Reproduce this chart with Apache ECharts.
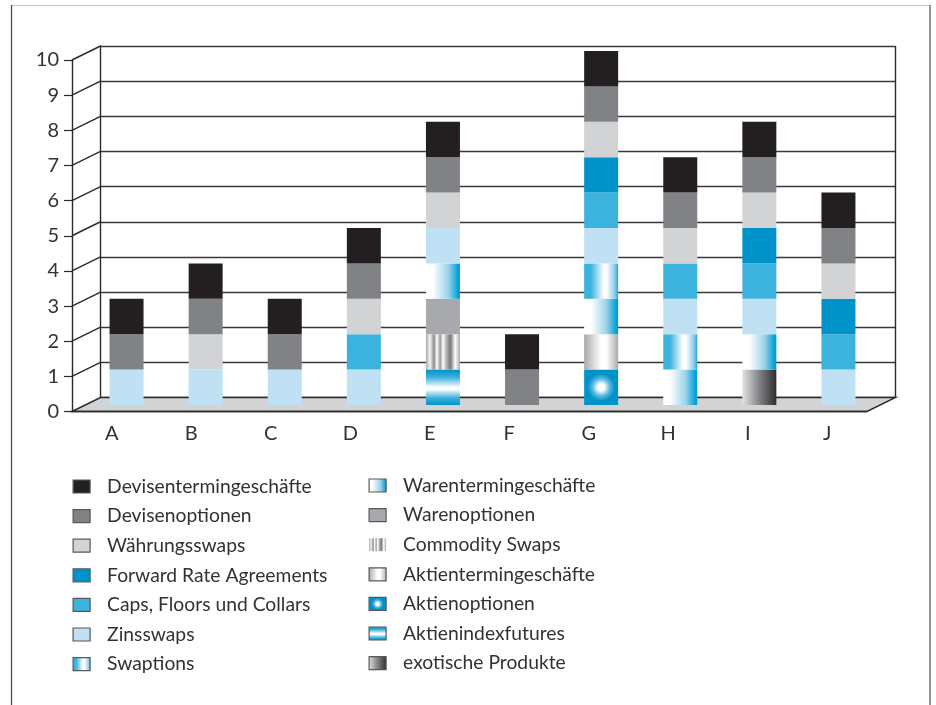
<!DOCTYPE html>
<html>
<head>
<meta charset="utf-8">
<style>html,body{margin:0;padding:0;background:#fff}#chart{width:936px;height:705px}</style>
<script src="https://cdn.jsdelivr.net/npm/echarts@6/dist/echarts.min.js"></script>
</head>
<body>
<div id="chart"></div>
<script>
// Categories and tick values
const categories = ['A', 'B', 'C', 'D', 'E', 'F', 'G', 'H', 'I', 'J'];
const yTicks = [0, 1, 2, 3, 4, 5, 6, 7, 8, 9, 10];

// Product counts per category, stacked bottom to top
const exotischeProdukte    = [0, 0, 0, 0, 0, 0, 0, 0, 1, 0];
const aktienindexfutures   = [0, 0, 0, 0, 1, 0, 0, 0, 0, 0];
const aktienoptionen       = [0, 0, 0, 0, 0, 0, 1, 0, 0, 0];
const aktientermin         = [0, 0, 0, 0, 0, 0, 1, 0, 0, 0];
const commoditySwaps       = [0, 0, 0, 0, 1, 0, 0, 0, 0, 0];
const warenoptionen        = [0, 0, 0, 0, 1, 0, 0, 0, 0, 0];
const warentermin          = [0, 0, 0, 0, 1, 0, 1, 1, 1, 0];
const swaptions            = [0, 0, 0, 0, 0, 0, 1, 1, 0, 0];
const zinsswaps            = [1, 1, 1, 1, 1, 0, 1, 1, 1, 1];
const capsFloorsCollars    = [0, 0, 0, 1, 0, 0, 1, 1, 1, 1];
const forwardRateAgreements= [0, 0, 0, 0, 0, 0, 1, 0, 1, 1];
const waehrungsswaps       = [0, 1, 0, 1, 1, 0, 1, 1, 1, 1];
const devisenoptionen      = [1, 1, 1, 1, 1, 1, 1, 1, 1, 1];
const devisentermin        = [1, 1, 1, 1, 1, 1, 1, 1, 1, 1];

const legendLeft = ['Devisentermingeschäfte', 'Devisenoptionen', 'Währungsswaps', 'Forward Rate Agreements',
  'Caps, Floors und Collars', 'Zinsswaps', 'Swaptions'];
const legendRight = ['Warentermingeschäfte', 'Warenoptionen', 'Commodity Swaps', 'Aktientermingeschäfte',
  'Aktienoptionen', 'Aktienindexfutures', 'exotische Produkte'];

// Fill helpers
const stops = list => list.map(([offset, color]) => ({ offset, color }));
const horizontal = list => ({ type: 'linear', x: 0, y: 0, x2: 1, y2: 0, colorStops: stops(list) });
const vertical = list => ({ type: 'linear', x: 0, y: 0, x2: 0, y2: 1, colorStops: stops(list) });
const BLUE = '#0093c9';

const stackDefs = [
  ['exotische Produkte', exotischeProdukte, horizontal([[0, '#e2e3e4'], [0.5, '#808285'], [1, '#2f2d2e']])],
  ['Aktienindexfutures', aktienindexfutures, vertical([[0, BLUE], [0.22, '#3db0dc'], [0.5, '#ffffff'], [0.56, '#ffffff'], [0.8, '#3db0dc'], [1, BLUE]])],
  ['Aktienoptionen', aktienoptionen, { type: 'radial', x: 0.5, y: 0.5, r: 0.5, colorStops: stops([[0, '#ffffff'], [0.2, '#ffffff'], [0.5, '#5dbbe0'], [0.8, BLUE], [1, BLUE]]) }],
  ['Aktientermingeschäfte', aktientermin, horizontal([[0, '#a7a9ac'], [0.5, '#ffffff'], [0.65, '#ffffff'], [1, '#a7a9ac']])],
  ['Commodity Swaps', commoditySwaps, horizontal([[0, '#a7a9ac'], [0.12, '#f4f4f4'], [0.24, '#8a8c8f'], [0.32, '#ffffff'], [0.42, '#9a9c9f'], [0.5, '#ffffff'], [0.6, '#b5b6b8'], [0.72, '#77797c'], [0.86, '#ffffff'], [1, '#a7a9ac']])],
  ['Warenoptionen', warenoptionen, '#a7a9ac'],
  ['Warentermingeschäfte', warentermin, horizontal([[0, '#ffffff'], [0.2, '#ffffff'], [0.65, '#9ed3ea'], [0.95, '#00a0d6'], [1, '#00a0d6']])],
  ['Swaptions', swaptions, horizontal([[0, '#3cb3dc'], [0.2, '#3cb3dc'], [0.58, '#ffffff'], [0.66, '#ffffff'], [0.9, '#8ccbe8'], [1, '#1ea5d8']])],
  ['Zinsswaps', zinsswaps, '#bfe1f3'],
  ['Caps, Floors und Collars', capsFloorsCollars, '#3cb3dc'],
  ['Forward Rate Agreements', forwardRateAgreements, BLUE],
  ['Währungsswaps', waehrungsswaps, '#d1d3d4'],
  ['Devisenoptionen', devisenoptionen, '#808285'],
  ['Devisentermingeschäfte', devisentermin, '#231f20']
];

const INK = '#333132';
const FONT = 'Lato, "Open Sans", sans-serif';
// Shift from the front plane to the back wall
const DEPTH_X = 28.5, DEPTH_Y = -14;

const legendBase = {
  orient: 'vertical', selectedMode: false, icon: 'rect',
  itemWidth: 17, itemHeight: 13, itemGap: 10.6,
  itemStyle: { borderColor: '#58595b', borderWidth: 1.2 },
  textStyle: { color: INK, fontFamily: FONT, fontSize: 19.3, padding: [0, 0, 0, 12] }
};

const chart = echarts.init(document.getElementById('chart'), null, { renderer: 'canvas' });

// Side wall connectors, floor and right edge of the box
function renderBox(params, api) {
  const v = api.value(0);
  const cs = params.coordSys;
  const y = api.coord([0, v])[1];
  const x0 = cs.x, x1 = cs.x + cs.width;
  const line = { stroke: '#2b2a2b', lineWidth: 1.4, fill: null };
  const children = [];
  if (v === 0) {
    children.push({
      type: 'polygon', z2: 0,
      shape: { points: [[x0, y], [x0 + DEPTH_X, y + DEPTH_Y], [x1 + DEPTH_X, y + DEPTH_Y], [x1, y]] },
      style: { fill: '#d1d3d4', stroke: '#2b2a2b', lineWidth: 1.4 }
    });
    children.push({
      type: 'line', z2: 1,
      shape: { x1: x1 + DEPTH_X, y1: y + DEPTH_Y, x2: x1 + DEPTH_X, y2: cs.y + DEPTH_Y },
      style: line
    });
  } else {
    children.push({
      type: 'line', z2: 1,
      shape: { x1: x0, y1: y, x2: x0 + DEPTH_X, y2: y + DEPTH_Y },
      style: line
    });
  }
  return { type: 'group', children };
}

chart.setOption({
  animation: false,
  grid: [
    { left: 72, top: 60, width: 795, height: 351.5 },
    { left: 100.5, top: 46, width: 795, height: 351.5 },
    { left: 87, top: 51, width: 791, height: 354 }
  ],
  legend: [
    Object.assign({}, legendBase, { left: 67.5, top: 472, data: legendLeft }),
    Object.assign({}, legendBase, {
      left: 363.5, top: 471,
      data: legendRight.map(name => name === 'Commodity Swaps' ? { name, itemStyle: { borderWidth: 0 } } : { name })
    })
  ],
  xAxis: [
    {
      gridIndex: 0, type: 'category', data: categories, z: 3,
      axisLine: { lineStyle: { color: '#2b2a2b', width: 1.4 } },
      axisTick: { length: 5, lineStyle: { color: '#2b2a2b', width: 1.2 } },
      axisLabel: { color: INK, fontFamily: FONT, fontSize: 20, margin: 12 }
    },
    { gridIndex: 1, type: 'category', data: categories, show: false },
    { gridIndex: 2, type: 'category', data: categories, show: false }
  ],
  yAxis: [
    {
      gridIndex: 0, type: 'value', min: 0, max: 10, interval: 1, z: 3,
      axisLine: { show: true, lineStyle: { color: '#2b2a2b', width: 1.4 } },
      axisTick: { show: true, length: 8, lineStyle: { color: '#2b2a2b', width: 1.2 } },
      axisLabel: { color: INK, fontFamily: FONT, fontSize: 20, margin: 13, customValues: yTicks },
      splitLine: { show: false }
    },
    {
      gridIndex: 1, type: 'value', min: 0, max: 10, interval: 1,
      axisLabel: { show: false }, axisTick: { show: false },
      axisLine: { show: true, lineStyle: { color: '#2b2a2b', width: 1.4 } },
      splitLine: { show: true, lineStyle: { color: '#3a3839', width: 1.4 } }
    },
    { gridIndex: 2, type: 'value', min: 0, max: 10, interval: 1, show: false, splitLine: { show: false } }
  ],
  series: [
    {
      type: 'custom', xAxisIndex: 0, yAxisIndex: 0, z: 1, silent: true,
      data: yTicks.map(v => [v]), encode: { y: 0 }, renderItem: renderBox
    }
  ].concat(stackDefs.map(([name, data, color]) => ({
    name, type: 'bar', stack: 'total', xAxisIndex: 2, yAxisIndex: 2, z: 4,
    barWidth: 34, data: data.map(v => v === 0 ? null : v), itemStyle: { color }
  })))
});
// Outer frame, open at the bottom
chart.setOption({
  graphic: [
    { type: 'line', shape: { x1: 11, y1: 5.5, x2: 930, y2: 5.5 }, style: { stroke: '#c4c5c6', lineWidth: 1 }, silent: true },
    { type: 'line', shape: { x1: 11.5, y1: 5, x2: 11.5, y2: 705 }, style: { stroke: '#4d4d4f', lineWidth: 1.3 }, silent: true },
    { type: 'line', shape: { x1: 930, y1: 5, x2: 930, y2: 705 }, style: { stroke: '#6d6e71', lineWidth: 1.5 }, silent: true }
  ]
});
</script>
</body>
</html>
